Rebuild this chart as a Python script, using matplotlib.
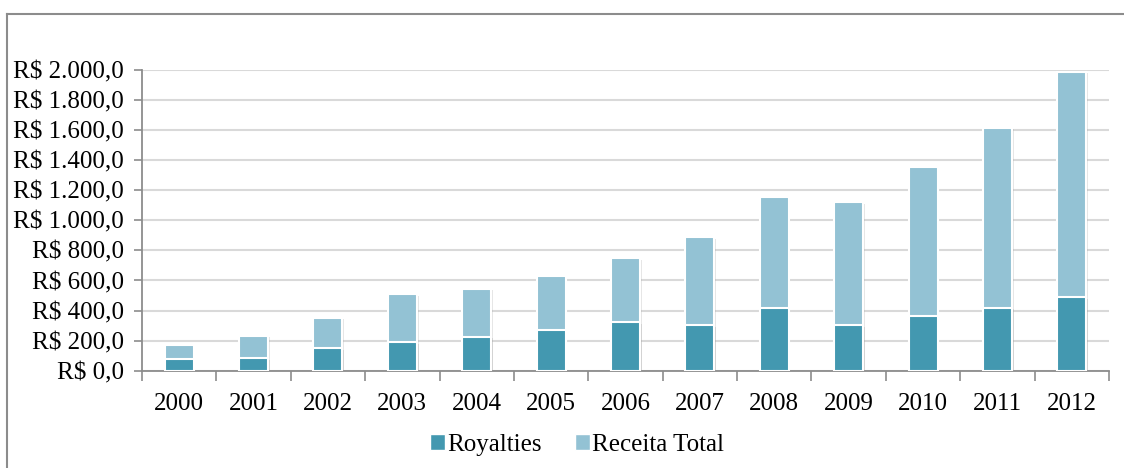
import matplotlib.pyplot as plt
import matplotlib.patheffects as pe
from matplotlib.lines import Line2D
from matplotlib.patches import Patch

plt.rcParams["font.family"] = ["Liberation Serif", "DejaVu Serif"]

anos = [str(a) for a in range(2000, 2013)]
receita_total = [169, 233, 353, 511, 545, 631, 747, 887, 1156, 1123, 1358, 1616, 1989]
royalties = [76, 85, 151, 189, 227, 269, 323, 303, 420, 303, 367, 420, 487]
yticks = list(range(0, 2001, 200))

cor_roy = "#4398b0"
cor_rec = "#93c2d4"

def brl(v):
    s = f"{v:,.1f}".replace(",", "X").replace(".", ",").replace("X", ".")
    return f"R$ {s}"

fig = plt.figure(figsize=(11.24, 4.68), dpi=100)
ax = fig.add_axes([0.1263, 0.2079, 0.9867 - 0.1263, 0.8504 - 0.2079])

x = range(len(anos))
sombra = [pe.SimplePatchShadow(offset=(1.2, -1.2), shadow_rgbFace="#9a9a9a", alpha=0.25),
          pe.Normal()]
b1 = ax.bar(x, receita_total, width=0.39, color=cor_rec, edgecolor="white",
            linewidth=1.5, zorder=2)
b2 = ax.bar(x, royalties, width=0.39, color=cor_roy, edgecolor="white",
            linewidth=1.5, zorder=3)
for b in list(b1) + list(b2):
    b.set_path_effects(sombra)

ax.set_xlim(-0.5, len(anos) - 0.5)
ax.set_ylim(0, 2000)
ax.set_yticks(yticks)
ax.set_yticklabels([brl(v) for v in yticks])
ax.set_xticks(list(x))
ax.set_xticklabels(anos)
ax.set_xticks([i + 0.5 for i in range(-1, len(anos))], minor=True)
ax.tick_params(axis="x", which="major", length=0, pad=16, labelsize=18)
ax.tick_params(axis="x", which="minor", length=7, width=1.2, color="#8c8c8c")
ax.tick_params(axis="y", length=6, width=1.2, color="#8c8c8c", pad=7, labelsize=18)

ax.grid(axis="y", color="#d9d9d9", linewidth=1.5, zorder=0)
ax.set_axisbelow(True)
for s in ["top", "right"]:
    ax.spines[s].set_visible(False)
for s in ["left", "bottom"]:
    ax.spines[s].set_color("#8c8c8c")
    ax.spines[s].set_linewidth(1.3)

handles = [Patch(facecolor=cor_roy, edgecolor="white"),
           Patch(facecolor=cor_rec, edgecolor="white")]
fig.legend(handles, ["Royalties", "Receita Total"], loc="center",
           bbox_to_anchor=(577 / 1124, 1 - 445 / 468), ncol=2, frameon=False,
           fontsize=18, handlelength=0.6, handleheight=0.6,
           handletextpad=0.1, columnspacing=1.3)

# moldura cinza do gráfico (esquerda e topo)
yb = 1 - 14 / 468
xb = 7 / 1124
fig.add_artist(Line2D([xb, xb], [0, yb], color="#8c8c8c", linewidth=1.5))
fig.add_artist(Line2D([xb, 1], [yb, yb], color="#8c8c8c", linewidth=1.5))

fig.savefig("out.png", dpi=100)
